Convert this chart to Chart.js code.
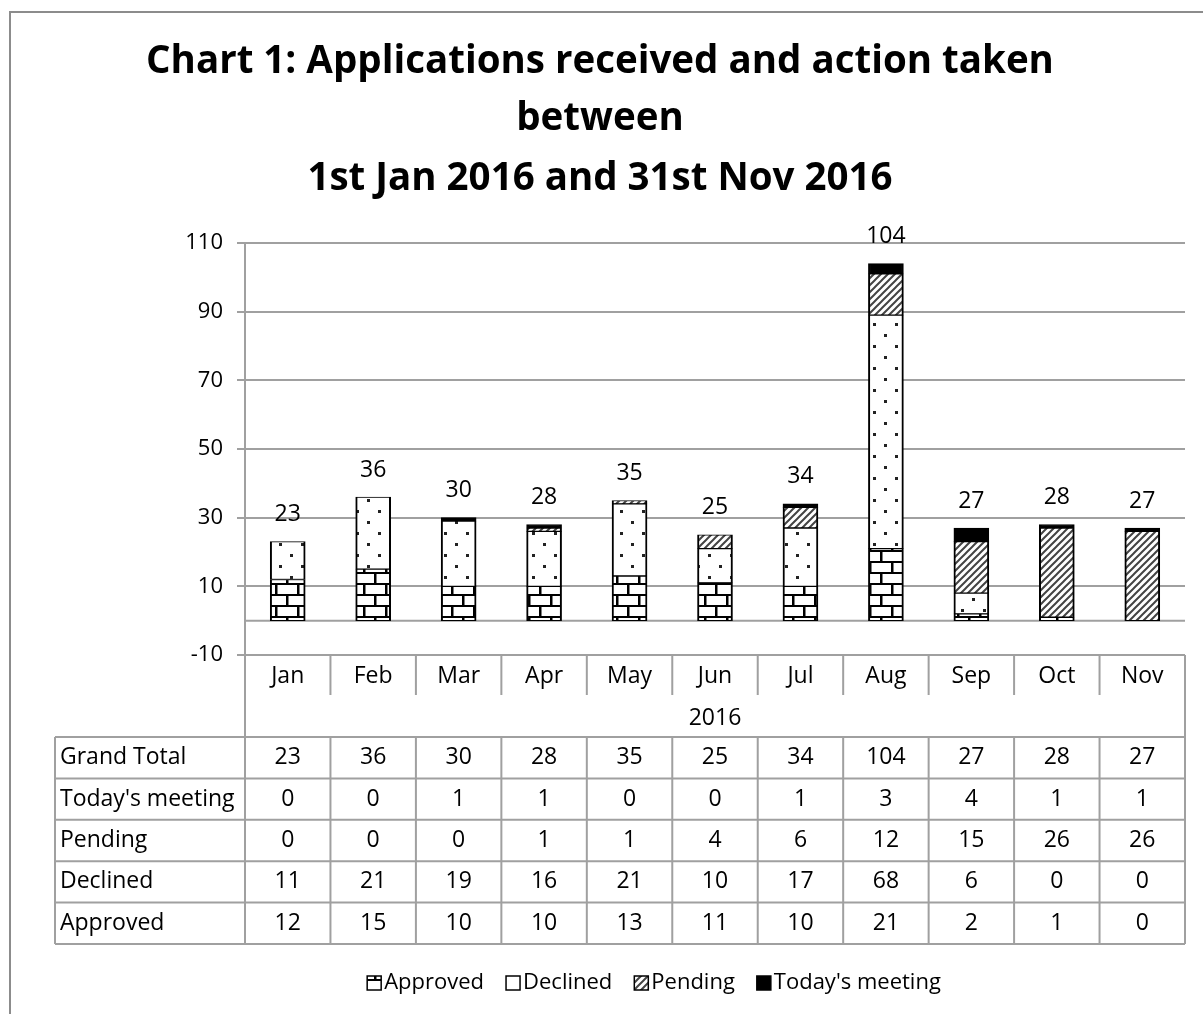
<!DOCTYPE html>
<html lang="en">
  <head>
    <meta charset="UTF-8" />
    <title>Chart 1: Applications received and action taken</title>
    <style>
      html, body { margin: 0; padding: 0; background: #fff; }
      #chart { display: block; }
    </style>
  </head>
  <body>
    <canvas id="chart" width="1203" height="1014"></canvas>
    <script src="https://cdn.jsdelivr.net/npm/chart.js@4.4.1/dist/chart.umd.min.js"></script>
    <script>
      const months = ['Jan', 'Feb', 'Mar', 'Apr', 'May', 'Jun', 'Jul', 'Aug', 'Sep', 'Oct', 'Nov'];
      const yearLabel = '2016';
      const approved = [12, 15, 10, 10, 13, 11, 10, 21, 2, 1, 0];
      const declined = [11, 21, 19, 16, 21, 10, 17, 68, 6, 0, 0];
      const pending = [0, 0, 0, 1, 1, 4, 6, 12, 15, 26, 26];
      const todaysMeeting = [0, 0, 1, 1, 0, 0, 1, 3, 4, 1, 1];
      const grandTotal = [23, 36, 30, 28, 35, 25, 34, 104, 27, 28, 27];
      const titleLines = [
        'Chart 1: Applications received and action taken',
        'between',
        '1st Jan 2016 and 31st Nov 2016',
      ];

      const FONT = '"Open Sans", "Noto Sans", sans-serif';
      const GRID = '#a0a0a0';
      const canvas = document.getElementById('chart');
      const ctx = canvas.getContext('2d');

      // fill patterns like the Excel ones
      function makePattern(w, h, draw) {
        const c = document.createElement('canvas');
        c.width = w;
        c.height = h;
        const g = c.getContext('2d');
        g.fillStyle = '#fff';
        g.fillRect(0, 0, w, h);
        draw(g, w, h);
        return ctx.createPattern(c, 'repeat');
      }

      const brick = makePattern(22, 22, (g) => {
        g.fillStyle = '#000';
        g.fillRect(0, 0, 22, 2);
        g.fillRect(0, 11, 22, 2);
        g.fillRect(0, 0, 2.5, 11);
        g.fillRect(11, 11, 2.5, 11);
      });

      const dots = makePattern(22, 22, (g) => {
        g.fillStyle = '#222';
        g.fillRect(4, 4, 3, 3);
        g.fillRect(15, 15, 3, 3);
      });

      const hatch = makePattern(7, 7, (g, w, h) => {
        g.strokeStyle = '#444';
        g.lineWidth = 2;
        g.beginPath();
        g.moveTo(-1, h + 1);
        g.lineTo(w + 1, -1);
        g.moveTo(-1, 1);
        g.lineTo(1, -1);
        g.moveTo(w - 1, h + 1);
        g.lineTo(w + 1, h - 1);
        g.stroke();
      });

      const segment = {
        borderColor: '#000',
        borderWidth: { top: 1, bottom: 1, left: 2, right: 2 },
        borderSkipped: false,
        barThickness: 35,
      };

      const tableRows = [
        ['Grand Total', grandTotal],
        ["Today's meeting", todaysMeeting],
        ['Pending', pending],
        ['Declined', declined],
        ['Approved', approved],
      ];

      const extras = {
        id: 'extras',
        beforeDatasetsDraw(chart) {
          const c = chart.ctx;
          const { left, right } = chart.chartArea;
          const y0 = chart.scales.y.getPixelForValue(0);
          c.save();
          c.strokeStyle = GRID;
          c.lineWidth = 2;
          c.beginPath();
          c.moveTo(left, y0);
          c.lineTo(right, y0);
          c.stroke();
          c.restore();
        },
        afterDatasetsDraw(chart) {
          const c = chart.ctx;
          const xs = chart.scales.x;
          const ys = chart.scales.y;
          c.save();
          c.fillStyle = '#000';
          c.font = '23px ' + FONT;
          c.textAlign = 'center';
          c.textBaseline = 'middle';
          grandTotal.forEach((v, i) => {
            c.fillText(String(v), xs.getPixelForValue(i), ys.getPixelForValue(v) - 27);
          });
          c.restore();
        },
        afterDraw(chart) {
          const c = chart.ctx;
          const xs = chart.scales.x;
          const L = xs.left;
          const R = xs.right;
          const T = xs.top;
          const step = xs.getPixelForValue(1) - xs.getPixelForValue(0);
          const monthBottom = T + 40;
          const tableTop = T + 82;
          const rowH = 41.4;
          const tableLeft = 55;
          const tableBottom = tableTop + rowH * tableRows.length;

          c.save();
          // outer frame
          c.strokeStyle = '#8c8c8c';
          c.lineWidth = 2;
          c.strokeRect(10, 12, 1400, 1200);

          // title
          c.fillStyle = '#000';
          c.textAlign = 'center';
          c.textBaseline = 'middle';
          c.font = 'bold 38.5px ' + FONT;
          [62, 119, 179].forEach((ty, i) => c.fillText(titleLines[i], 600, ty));

          // data table grid
          c.strokeStyle = GRID;
          c.lineWidth = 2;
          c.beginPath();
          c.moveTo(L, T);
          c.lineTo(L, tableBottom);
          c.moveTo(R, T);
          c.lineTo(R, tableBottom);
          c.moveTo(tableLeft, tableTop);
          c.lineTo(tableLeft, tableBottom);
          for (let k = 1; k < months.length; k++) {
            const x = L + k * step;
            c.moveTo(x, T);
            c.lineTo(x, monthBottom);
            c.moveTo(x, tableTop);
            c.lineTo(x, tableBottom);
          }
          for (let r = 0; r <= tableRows.length; r++) {
            const y = tableTop + r * rowH;
            c.moveTo(tableLeft, y);
            c.lineTo(R, y);
          }
          c.stroke();

          // table text
          c.font = '23px ' + FONT;
          c.fillText(yearLabel, (L + R) / 2, T + 63);
          tableRows.forEach(([name, vals], r) => {
            const cy = tableTop + r * rowH + rowH / 2;
            c.textAlign = 'left';
            c.fillText(name, tableLeft + 5, cy);
            c.textAlign = 'center';
            vals.forEach((v, i) => c.fillText(String(v), xs.getPixelForValue(i), cy));
          });

          // legend
          c.font = '22px ' + FONT;
          const items = chart.data.datasets.map((d) => [d.label, d.backgroundColor]);
          const box = 14, gap = 3, space = 22;
          let total = 0;
          items.forEach(([t]) => (total += box + gap + c.measureText(t).width));
          total += space * (items.length - 1);
          let lx = 654 - total / 2;
          const ly = 983;
          c.textAlign = 'left';
          items.forEach(([t, fill]) => {
            c.fillStyle = fill;
            c.fillRect(lx, ly - box / 2, box, box);
            c.strokeStyle = '#000';
            c.lineWidth = 1.5;
            c.strokeRect(lx, ly - box / 2, box, box);
            c.fillStyle = '#000';
            c.fillText(t, lx + box + gap, ly);
            lx += box + gap + c.measureText(t).width + space;
          });
          c.restore();
        },
      };

      new Chart(ctx, {
        type: 'bar',
        data: {
          labels: months,
          datasets: [
            { label: 'Approved', data: approved, backgroundColor: brick, ...segment },
            { label: 'Declined', data: declined, backgroundColor: dots, ...segment },
            { label: 'Pending', data: pending, backgroundColor: hatch, ...segment },
            { label: "Today's meeting", data: todaysMeeting, backgroundColor: '#000', ...segment },
          ],
        },
        options: {
          responsive: false,
          animation: false,
          layout: { padding: { top: 243, right: 18, bottom: 70, left: 0 } },
          plugins: {
            legend: { display: false },
            title: { display: false },
            tooltip: { enabled: false },
          },
          scales: {
            x: {
              stacked: true,
              grid: { display: false },
              border: { display: false },
              ticks: { color: '#000', font: { family: FONT, size: 23 }, padding: 0 },
              afterFit: (s) => { s.height = 289; },
            },
            y: {
              stacked: true,
              min: -10,
              max: 110,
              ticks: { stepSize: 20, color: '#000', font: { family: FONT, size: 22 }, padding: 14 },
              grid: { color: GRID, lineWidth: 2, tickLength: 8 },
              border: { color: GRID, width: 2 },
              afterFit: (s) => { s.width = 245; },
            },
          },
        },
        plugins: [extras],
      });
    </script>
  </body>
</html>
